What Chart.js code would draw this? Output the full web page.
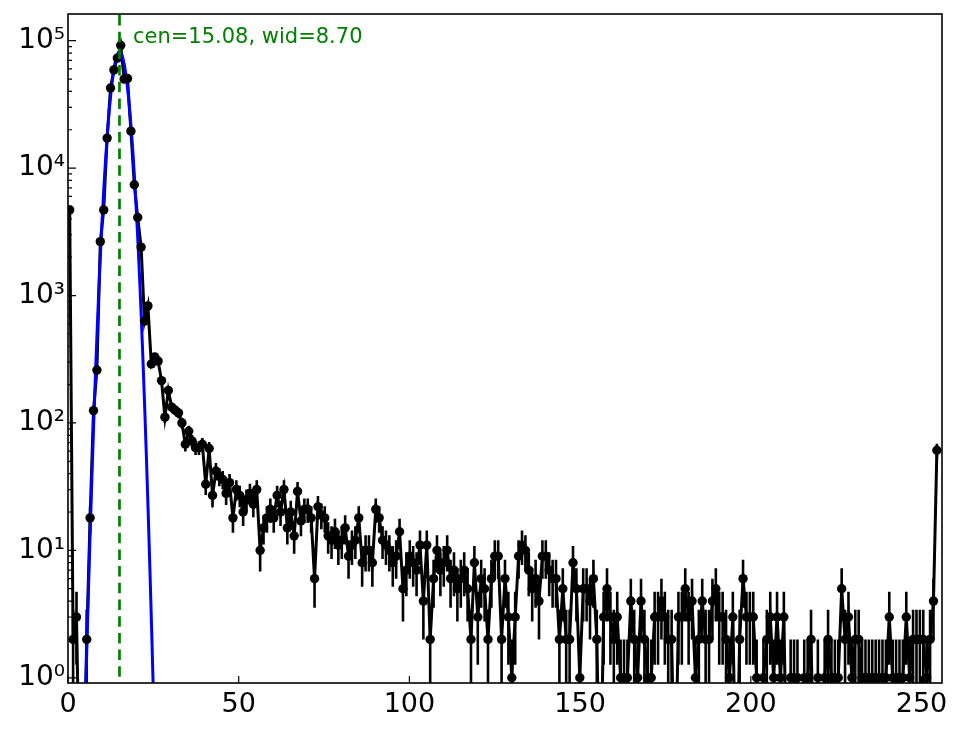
<!DOCTYPE html>
<html>
<head>
<meta charset="utf-8">
<script src="https://cdn.jsdelivr.net/npm/chart.js@4.4.0/dist/chart.umd.min.js"></script>
<style>
  html, body { margin: 0; padding: 0; background: #fff; }
  #wrap { width: 964px; height: 729px; }
</style>
</head>
<body>
<div id="wrap"><canvas id="chart" width="964" height="729"></canvas></div>
<script>
// histogram counts, one per bin (256 bins over 0..255)
const counts = [
  4700, 2, 3, 0, 0, 2, 18, 125, 260, 2650,
  4700, 17200, 42500, 59000, 73000, 92000, 50000, 50500, 19500, 7400,
  4100, 2400, 630, 830, 290, 330, 306, 215, 111, 180,
  133, 126, 120, 100, 68, 86, 72, 64, 64, 68,
  33, 63, 27, 42, 38, 36, 28, 34, 18, 30,
  27, 20, 25, 28, 23, 30, 10, 15, 18, 21,
  18, 27, 20, 30, 15, 20, 13, 29, 17, 21,
  21, 18, 6, 22, 19, 18, 13, 12, 14, 11,
  12, 15, 9, 11, 12, 18, 8, 10, 10, 8,
  21, 18, 12, 11, 10, 8, 9, 14, 5, 7,
  9, 8, 7, 11, 4, 11, 2, 6, 10, 7,
  8, 10, 6, 7, 5, 6, 7, 5, 2, 8,
  3, 6, 5, 2, 6, 9, 9, 2, 6, 3,
  1, 3, 9, 11, 10, 7, 5, 6, 4, 9,
  9, 7, 6, 6, 2, 5, 2, 2, 8, 5,
  1, 5, 5, 4, 6, 2, 0, 3, 5, 3,
  2, 3, 1, 1, 1, 4, 2, 1, 4, 2,
  1, 1, 3, 3, 4, 3, 2, 2, 0, 3,
  3, 5, 3, 4, 1, 2, 4, 2, 2, 4,
  5, 3, 3, 2, 1, 3, 0, 2, 6, 3,
  3, 3, 1, 0, 1, 2, 3, 1, 3, 1,
  3, 0, 1, 1, 1, 0, 1, 1, 2, 0,
  1, 0, 1, 2, 1, 1, 1, 5, 2, 3,
  1, 2, 2, 1, 1, 1, 1, 1, 1, 1,
  1, 3, 1, 1, 1, 1, 3, 1, 2, 2,
  2, 2, 1, 2, 4, 61
];
const binLo = 0;
const binHi = 255;

// gaussian fit curve
const fitX = [4, 4.5, 5, 5.5, 6, 6.5, 7, 7.5, 8, 8.5, 9, 9.5, 10, 10.5, 11, 11.5,
  12, 12.5, 13, 13.5, 14, 14.5, 15, 15.5, 16, 16.5, 17, 17.5, 18, 18.5, 19, 19.5,
  20, 20.5, 21, 21.5, 22, 22.5, 23, 23.5, 24, 24.5, 25, 25.5, 26];
const fitY = [0.043, 0.155, 0.52, 1.66, 4.98, 14.1, 37.5, 94, 224, 500, 1060, 2090,
  3920, 6930, 11560, 18100, 26800, 37400, 49200, 61100, 71500, 78800, 81900, 80300,
  74200, 64600, 53100, 41100, 30000, 20700, 13400, 8200, 4740, 2570, 1320, 640,
  291, 125, 50.6, 19.4, 7.0, 2.4, 0.76, 0.23, 0.065];
const fitCen = 15.08;
const fitWid = 8.70;

const xTicks = [0, 50, 100, 150, 200, 250];
const yTicks = [1, 10, 100, 1000, 10000, 100000];
const yTickLabels = ['10⁰', '10¹', '10²', '10³', '10⁴', '10⁵'];
const xMin = 0, xMax = 256;
const yMin = 0.91, yMax = 1.62e5;

const binWidth = (binHi - binLo) / counts.length;
const binCenters = counts.map((c, i) => binLo + (i + 0.5) * binWidth);

// zero bins fall off the bottom of the log axis
const linePoints = counts.map((c, i) => ({ x: binCenters[i], y: c > 0 ? c : yMin / 10 }));
const markerPoints = counts.map((c, i) => ({ x: binCenters[i], y: c })).filter(p => p.y > 0);
const fitPoints = fitX.map((v, i) => ({ x: v, y: fitY[i] }));
const yMinorTicks = yTicks.flatMap(t => [2, 3, 4, 5, 6, 7, 8, 9].map(k => k * t)).filter(v => v < yMax);

const errorBars = {
    id: 'errorBars',
    beforeDatasetsDraw(chart) {
        const { ctx, chartArea: a, scales: { x, y } } = chart;
        ctx.save();
        ctx.beginPath();
        ctx.rect(a.left, a.top, a.width, a.height);
        ctx.clip();
        ctx.strokeStyle = '#000';
        ctx.lineWidth = 2.6;
        ctx.beginPath();
        counts.forEach((c, i) => {
            if (c <= 0) return;
            const err = Math.sqrt(c);
            const px = x.getPixelForValue(binCenters[i]);
            const lo = c - err > 0 ? y.getPixelForValue(c - err) : a.bottom + 5;
            const hi = y.getPixelForValue(c + err);
            ctx.moveTo(px, lo);
            ctx.lineTo(px, hi);
        });
        ctx.stroke();
        ctx.restore();
    }
};

const frame = {
    id: 'frame',
    afterDatasetsDraw(chart) {
        const { ctx, chartArea: a, scales: { x, y } } = chart;
        ctx.save();
        ctx.strokeStyle = '#000';
        ctx.lineWidth = 1.2;
        ctx.beginPath();
        xTicks.forEach(v => {
            const px = x.getPixelForValue(v);
            ctx.moveTo(px, a.bottom);
            ctx.lineTo(px, a.bottom - 7);
        });
        yTicks.forEach(v => {
            const py = y.getPixelForValue(v);
            ctx.moveTo(a.left, py);
            ctx.lineTo(a.left + 8, py);
        });
        yMinorTicks.forEach(v => {
            const py = y.getPixelForValue(v);
            ctx.moveTo(a.left, py);
            ctx.lineTo(a.left + 4, py);
        });
        ctx.stroke();
        ctx.lineWidth = 1.6;
        ctx.strokeRect(a.left, a.top, a.width, a.height);

        ctx.fillStyle = '#008000';
        ctx.font = '21px "DejaVu Sans"';
        ctx.textAlign = 'left';
        ctx.textBaseline = 'alphabetic';
        ctx.fillText('cen=' + fitCen.toFixed(2) + ', wid=' + fitWid.toFixed(2),
            x.getPixelForValue(fitCen) + 13.5, a.top + 29);
        ctx.restore();
    }
};

Chart.defaults.font.family = '"DejaVu Sans"';
Chart.defaults.color = '#000';

const ctx = document.getElementById('chart').getContext('2d');
const chart = new Chart(ctx, {
    type: 'line',
    data: {
        datasets: [
            {
                data: [{ x: fitCen, y: yMin / 10 }, { x: fitCen, y: yMax * 10 }],
                borderColor: '#008000',
                borderWidth: 2.7,
                borderDash: [10.5, 6.2],
                pointRadius: 0,
                order: 0
            },
            {
                data: markerPoints,
                showLine: false,
                pointRadius: 4.7,
                pointBackgroundColor: '#000',
                pointBorderWidth: 0,
                order: 1
            },
            {
                data: fitPoints,
                borderColor: '#0000ff',
                borderWidth: 3,
                pointRadius: 0,
                order: 2
            },
            {
                data: linePoints,
                borderColor: '#000',
                borderWidth: 3,
                pointRadius: 0,
                order: 3
            }
        ]
    },
    options: {
        responsive: false,
        animation: false,
        devicePixelRatio: 1,
        events: [],
        layout: { padding: { top: 14, right: 22, left: 0, bottom: 0 } },
        plugins: {
            legend: { display: false },
            tooltip: { enabled: false }
        },
        scales: {
            x: {
                type: 'linear',
                min: xMin,
                max: xMax,
                grid: { display: false, drawTicks: false },
                border: { display: false },
                afterBuildTicks: s => { s.ticks = xTicks.map(v => ({ value: v })); },
                afterFit: s => { s.height = 46; s.paddingLeft = 0; s.paddingRight = 0; },
                ticks: {
                    autoSkip: false,
                    maxRotation: 0,
                    padding: 6,
                    font: { size: 27 },
                    callback: v => String(v)
                }
            },
            y: {
                type: 'logarithmic',
                min: yMin,
                max: yMax,
                grid: { display: false, drawTicks: false },
                border: { display: false },
                afterBuildTicks: s => { s.ticks = yTicks.map(v => ({ value: v })); },
                afterFit: s => { s.width = 68; s.paddingTop = 0; s.paddingBottom = 0; },
                ticks: {
                    autoSkip: false,
                    padding: 3,
                    font: { size: 28 },
                    callback: v => yTickLabels[yTicks.indexOf(v)]
                }
            }
        }
    },
    plugins: [errorBars, frame]
});
</script>
</body>
</html>
